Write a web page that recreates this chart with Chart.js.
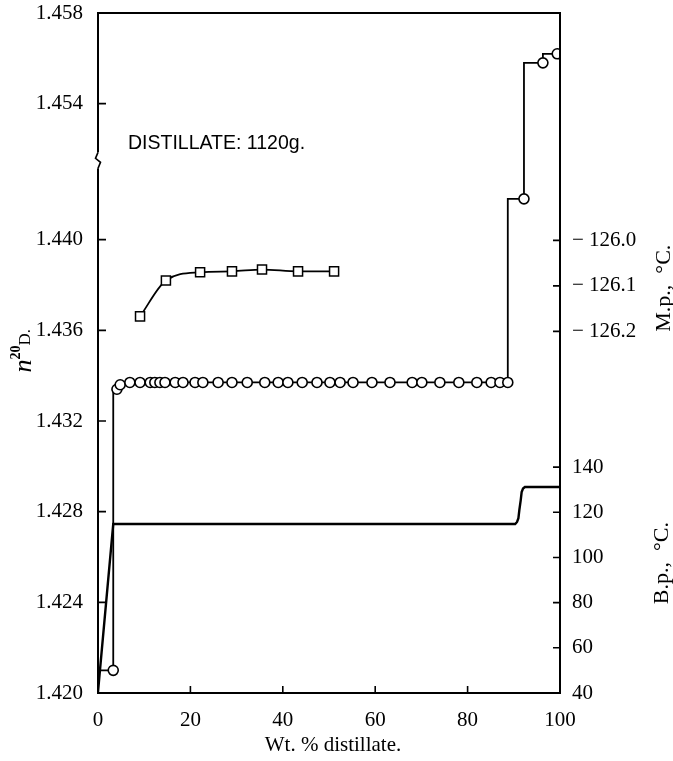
<!DOCTYPE html>
<html>
<head>
<meta charset="utf-8">
<script src="https://cdn.jsdelivr.net/npm/chart.js@4"></script>
<style>
    html, body { margin: 0; padding: 0; background: #fff; }
</style>
</head>
<body>
<canvas id="distChart" width="673" height="761"></canvas>
<script>
'use strict';

// refractive index readings (circles), x = wt. % distilled
const nPct = [0, 3.3, 4.1, 4.8, 6.9, 9.1, 11.3, 12.3, 13.4, 14.5, 16.7, 18.4,
    21.0, 22.7, 26.0, 29.0, 32.3, 36.1, 39.0, 41.1, 44.2, 47.4,
    50.2, 52.4, 55.2, 59.3, 63.2, 68.0, 70.1, 74.0, 78.1, 82.0,
    85.1, 87.0, 88.7, 92.2, 96.3, 99.4];
const nVal = [1.4210, 1.4210, 1.4334, 1.4336, 1.4337, 1.4337, 1.4337, 1.4337, 1.4337, 1.4337, 1.4337, 1.4337,
    1.4337, 1.4337, 1.4337, 1.4337, 1.4337, 1.4337, 1.4337, 1.4337, 1.4337, 1.4337,
    1.4337, 1.4337, 1.4337, 1.4337, 1.4337, 1.4337, 1.4337, 1.4337, 1.4337, 1.4337,
    1.4337, 1.4337, 1.4337, 1.4418, 1.4558, 1.4562];

// melting points (squares)
const mpPct = [9.1, 14.7, 22.1, 29.0, 35.5, 43.3, 51.1];
const mpVal = [-126.167, -126.088, -126.070, -126.068, -126.064, -126.068, -126.068];

// boiling point trace
const bpPct = [0, 3.3, 90.3, 90.7, 91.0, 91.2, 91.5, 91.7, 92.0, 92.4, 100];
const bpVal = [40.5, 114.8, 114.8, 115.7, 117.4, 121.0, 125.4, 128.9, 130.5, 131.2, 131.2];

const xTicks = [0, 20, 40, 60, 80, 100];
const nTicks = [1.420, 1.424, 1.428, 1.432, 1.436, 1.440, 1.454, 1.458];
const mpTicks = [-126.0, -126.1, -126.2];
const bpTicks = [40, 60, 80, 100, 120, 140];

// n axis is broken: 1.454 and up is pulled down by BREAK_SHIFT
const BREAK_AT = 1.4435;
const BREAK_SHIFT = 0.008;
function nAxis(v) { return v > 1.45 ? v - BREAK_SHIFT : v; }
function nLabel(v) { return (v > BREAK_AT ? v + BREAK_SHIFT : v).toFixed(3); }

const SERIF = "'Liberation Serif', 'DejaVu Serif', serif";
const tickFont = { family: SERIF, size: 21 };

function pts(xs, ys, f) {
    return xs.map((x, i) => ({ x: x, y: f ? f(ys[i]) : ys[i] }));
}

// vertical axes: fixed width, no extra room above/below the plot
function fitV(width) {
    return s => {
        s.width = width;
        s.paddingTop = 0;
        s.paddingBottom = 0;
    };
}

// draws text rotated -90deg, centred on (x, y); parts = [{t, font, dy}]
function vText(ctx, x, y, parts) {
    ctx.save();
    ctx.translate(x, y);
    ctx.rotate(-Math.PI / 2);
    ctx.textBaseline = 'middle';
    ctx.textAlign = 'left';
    let total = 0;
    parts.forEach(p => { ctx.font = p.font; total += ctx.measureText(p.t).width; });
    let cx = -total / 2;
    parts.forEach(p => {
        ctx.font = p.font;
        ctx.fillText(p.t, cx, p.dy || 0);
        cx += ctx.measureText(p.t).width;
    });
    ctx.restore();
}

const framePlugin = {
    id: 'frame',
    afterLayout(chart) {
        // b.p. axis takes no room of its own, but its labels need the space
        chart.scales.bp.right = chart.scales.mp.right;
    },
    afterDraw(chart) {
        const { ctx, chartArea: a, scales } = chart;
        ctx.save();
        ctx.strokeStyle = '#000';
        ctx.fillStyle = '#000';

        // box
        ctx.lineWidth = 2;
        ctx.strokeRect(a.left, a.top, a.right - a.left, a.bottom - a.top);

        // inward tick marks
        ctx.lineWidth = 1.6;
        ctx.beginPath();
        scales.x.ticks.forEach(t => {
            const px = scales.x.getPixelForValue(t.value);
            ctx.moveTo(px, a.bottom);
            ctx.lineTo(px, a.bottom - 7);
        });
        scales.y.ticks.forEach(t => {
            const py = scales.y.getPixelForValue(t.value);
            ctx.moveTo(a.left, py);
            ctx.lineTo(a.left + 8, py);
        });
        [scales.mp, scales.bp].forEach(s => {
            s.ticks.forEach(t => {
                const py = s.getPixelForValue(t.value);
                ctx.moveTo(a.right + 1, py);
                ctx.lineTo(a.right - 7, py);
            });
        });
        ctx.stroke();

        // axis break on the n scale
        const by = scales.y.getPixelForValue(BREAK_AT);
        ctx.fillStyle = '#fff';
        ctx.fillRect(a.left - 3, by - 8, 6, 16);
        ctx.beginPath();
        ctx.moveTo(a.left, by - 8);
        ctx.lineTo(a.left - 2.5, by - 2);
        ctx.lineTo(a.left + 2.5, by + 2);
        ctx.lineTo(a.left, by + 8);
        ctx.lineWidth = 1.6;
        ctx.stroke();

        // titles
        ctx.fillStyle = '#000';
        ctx.textAlign = 'center';
        ctx.textBaseline = 'middle';
        ctx.font = `21px ${SERIF}`;
        ctx.fillText('Wt. % distillate.', (a.left + a.right) / 2 + 4, 745);

        vText(ctx, 24, scales.y.getPixelForValue(1.4351), [
            { t: 'n', font: `italic 26px ${SERIF}`, dy: 0 },
            { t: '20', font: `bold 14px ${SERIF}`, dy: -8 },
            { t: 'D.', font: `17px ${SERIF}`, dy: 2 }
        ]);
        vText(ctx, 664, scales.mp.getPixelForValue(-126.105), [
            { t: 'M.p.,  \u00b0C.', font: `22px ${SERIF}` }
        ]);
        vText(ctx, 662, scales.bp.getPixelForValue(97.5), [
            { t: 'B.p.,  \u00b0C.', font: `22px ${SERIF}` }
        ]);

        // annotation
        ctx.textAlign = 'left';
        ctx.textBaseline = 'alphabetic';
        ctx.font = "19.5px 'Liberation Sans', 'DejaVu Sans', sans-serif";
        ctx.fillText('DISTILLATE: 1120g.', scales.x.getPixelForValue(6.5), scales.y.getPixelForValue(1.4440));
        ctx.restore();
    }
};

const ctx = document.getElementById('distChart').getContext('2d');

new Chart(ctx, {
    type: 'line',
    data: {
        datasets: [
            {
                // n20D
                data: pts(nPct, nVal, nAxis),
                yAxisID: 'y',
                stepped: 'after',
                borderColor: '#000',
                borderWidth: 1.8,
                pointStyle: 'circle',
                pointRadius: nPct.map((_, i) => i === 0 ? 0 : 5),
                pointBorderWidth: 1.6,
                pointBorderColor: '#000',
                pointBackgroundColor: '#fff',
                clip: 0
            },
            {
                // melting point
                data: pts(mpPct, mpVal),
                yAxisID: 'mp',
                tension: 0.4,
                cubicInterpolationMode: 'monotone',
                borderColor: '#000',
                borderWidth: 1.8,
                pointStyle: 'rect',
                pointRadius: 6.4,
                pointBorderWidth: 1.5,
                pointBorderColor: '#000',
                pointBackgroundColor: '#fff'
            },
            {
                // boiling point
                data: pts(bpPct, bpVal),
                yAxisID: 'bp',
                tension: 0,
                borderColor: '#000',
                borderWidth: 2.4,
                pointRadius: 0
            }
        ]
    },
    options: {
        responsive: false,
        animation: false,
        layout: { padding: { top: 13, left: 0, right: 0, bottom: 0 } },
        plugins: {
            legend: { display: false },
            tooltip: { enabled: false }
        },
        scales: {
            x: {
                type: 'linear',
                position: 'bottom',
                min: 0,
                max: 100,
                afterBuildTicks: s => { s.ticks = xTicks.map(v => ({ value: v })); },
                afterFit: s => { s.height = 68; },
                grid: { display: false },
                border: { display: false },
                ticks: { font: tickFont, color: '#000', padding: 7, maxRotation: 0 }
            },
            y: {
                type: 'linear',
                position: 'left',
                min: 1.420,
                max: 1.450,
                afterBuildTicks: s => { s.ticks = nTicks.map(v => ({ value: nAxis(v) })); },
                afterFit: fitV(98),
                grid: { display: false },
                border: { display: false },
                ticks: { font: tickFont, color: '#000', padding: 7, callback: v => nLabel(v) }
            },
            bp: {
                type: 'linear',
                position: 'right',
                min: 40,
                max: 341,
                afterBuildTicks: s => { s.ticks = bpTicks.map(v => ({ value: v })); },
                afterFit: fitV(0),
                grid: { display: false },
                border: { display: false },
                ticks: { font: tickFont, color: '#000', padding: 4 }
            },
            mp: {
                type: 'linear',
                position: 'right',
                min: -126.995,
                max: -125.5,
                afterBuildTicks: s => { s.ticks = mpTicks.map(v => ({ value: v })); },
                afterFit: fitV(113),
                grid: { display: false },
                border: { display: false },
                ticks: {
                    font: tickFont,
                    color: '#000',
                    padding: 4,
                    callback: v => '\u2212 ' + Math.abs(v).toFixed(1)
                }
            }
        }
    },
    plugins: [framePlugin]
});
</script>
</body>
</html>
